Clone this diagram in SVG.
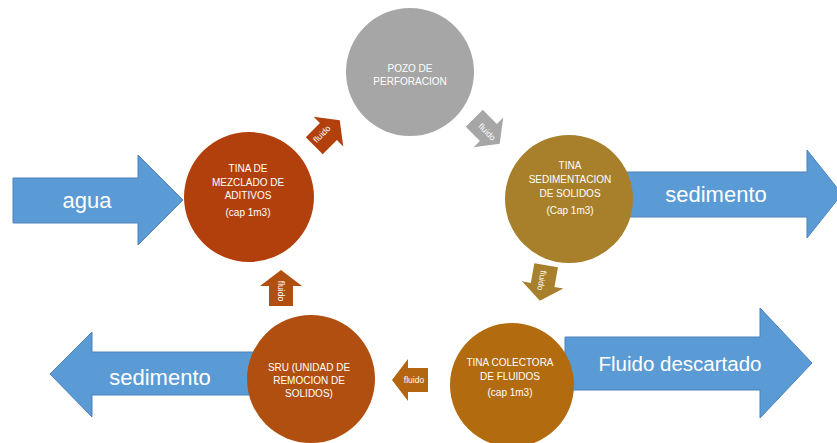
<svg xmlns="http://www.w3.org/2000/svg" width="837" height="443" viewBox="0 0 837 443">
<style>
.big{fill:#5B9BD5;stroke:#4F81BD;stroke-width:1}
.bt{fill:#fff;font-family:"Liberation Sans",Arial,sans-serif;font-size:22px;text-anchor:middle}
.ct{fill:#fff;font-family:"Liberation Sans",Arial,sans-serif;font-size:10px;text-anchor:middle}
.ft{fill:#fff;font-family:"Liberation Sans",Arial,sans-serif;font-size:8.5px;text-anchor:middle}
</style>
<defs>
<path id="sa" d="M-18,-12 L2,-12 L2,-21 L18,0 L2,21 L2,12 L-18,12 Z"/>
</defs>
<rect width="837" height="443" fill="#fff"/>
<g id="connectors">
<g id="agua-arrow">
<path class="big" d="M13,178 L138,178 L138,155 L183,200 L138,245 L138,223 L13,223 Z"/>
<text class="bt" x="87" y="208">agua</text>
</g>
<g id="sedimento-right-arrow">
<path class="big" d="M620,172 L807,172 L807,150 L842,194 L807,238 L807,217 L620,217 Z"/>
<text class="bt" x="716" y="202">sedimento</text>
</g>
<g id="fluido-descartado-arrow">
<path class="big" d="M565,337 L760,337 L760,308 L812,363 L760,418 L760,390 L565,390 Z"/>
<text class="bt" x="680" y="371" style="font-size:20.5px">Fluido descartado</text>
</g>
<g id="sedimento-left-arrow">
<path class="big" d="M260,352 L92,352 L92,332 L50,374 L92,417 L92,395 L260,395 Z"/>
<text class="bt" x="160" y="385">sedimento</text>
</g>
<g id="f1">
<use href="#sa" fill="#B2400C" transform="translate(327,133) rotate(-45)"/>
<text class="ft" transform="translate(324,136) rotate(-45)">fluido</text>
</g>
<g id="f2">
<use href="#sa" fill="#A6A6A6" transform="translate(487,131) rotate(45)"/>
<text class="ft" transform="translate(485,134) rotate(45)">fluido</text>
</g>
<g id="f3">
<use href="#sa" fill="#A8802C" transform="translate(543,283) rotate(100)"/>
<text class="ft" transform="translate(539,280) rotate(100)">fluido</text>
</g>
<g id="f4">
<use href="#sa" fill="#B3650F" transform="translate(410,380) rotate(180)"/>
<text class="ft" x="414" y="383">fluido</text>
</g>
<g id="f5">
<use href="#sa" fill="#B04F10" transform="translate(281,288) rotate(-90)"/>
<text class="ft" transform="translate(278,291) rotate(90)">fluido</text>
</g>
</g>
<g id="pozo">
<circle cx="410" cy="72" r="64" fill="#A6A6A6"/>
<text class="ct" x="410" y="72">POZO DE</text>
<text class="ct" x="410" y="85">PERFORACION</text>
</g>
<g id="mezclado">
<circle cx="249" cy="197" r="65" fill="#B2400C"/>
<text class="ct" x="248" y="172">TINA DE</text>
<text class="ct" x="248" y="186">MEZCLADO DE</text>
<text class="ct" x="248" y="199">ADITIVOS</text>
<text class="ct" x="248" y="216">(cap 1m3)</text>
</g>
<g id="sedimentacion">
<circle cx="569" cy="199" r="64" fill="#A8802C"/>
<text class="ct" x="570" y="169">TINA</text>
<text class="ct" x="570" y="183">SEDIMENTACION</text>
<text class="ct" x="570" y="197">DE SOLIDOS</text>
<text class="ct" x="570" y="214">(Cap 1m3)</text>
</g>
<g id="sru">
<circle cx="311" cy="379" r="64" fill="#B04F10"/>
<text class="ct" x="309" y="371">SRU (UNIDAD DE</text>
<text class="ct" x="309" y="384">REMOCION DE</text>
<text class="ct" x="309" y="397">SOLIDOS)</text>
</g>
<g id="colectora">
<circle cx="512" cy="385" r="62" fill="#B36B10"/>
<text class="ct" x="510" y="366">TINA COLECTORA</text>
<text class="ct" x="510" y="380">DE FLUIDOS</text>
<text class="ct" x="510" y="396">(cap 1m3)</text>
</g>
</svg>
